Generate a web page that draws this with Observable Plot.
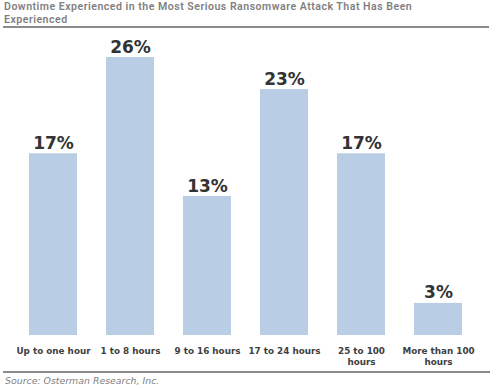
<!DOCTYPE html>
<html>
<head>
<meta charset="utf-8">
<script src="https://cdn.jsdelivr.net/npm/d3@7"></script>
<script src="https://cdn.jsdelivr.net/npm/@observablehq/plot@0.6"></script>
<style>
  html, body { margin: 0; padding: 0; background: #fff; }
  #wrap { width: 497px; height: 389px; position: relative; overflow: hidden; }
  #title { position: absolute; left: 3px; top: 1px; width: 485px; height: 25px;
    border-bottom: 2px solid #8c8c8c;
    font-family: Roboto, "Open Sans", sans-serif; font-weight: 600; font-size: 10.6px;
    letter-spacing: 0.48px; color: #7f7f7f; padding-left: 1px; }
  #title div { height: 12.5px; line-height: 12.5px; white-space: nowrap; }
  #chart { position: absolute; left: 0; top: 28px; }
  #source { position: absolute; left: 3px; top: 371px; width: 485px;
    border-top: 2px solid #8c8c8c;
    font-family: "DejaVu Sans", Verdana, sans-serif; font-style: italic;
    font-size: 9.4px; line-height: 11px; color: #7f7f7f; padding-left: 2px; padding-top: 2px; }
</style>
</head>
<body>
<div id="wrap">
  <div id="title"><div>Downtime Experienced in the Most Serious Ransomware Attack That Has Been</div><div>Experienced</div></div>
  <div id="chart"></div>
  <div id="source">Source: Osterman Research, Inc.</div>
</div>
<script>
const categories = ["Up to one hour", "1 to 8 hours", "9 to 16 hours", "17 to 24 hours", "25 to 100 hours", "More than 100 hours"];
const tickLabels = ["Up to one hour", "1 to 8 hours", "9 to 16 hours", "17 to 24 hours", "25 to 100\nhours", "More than 100\nhours"];
const values = [17, 26, 13, 23, 17, 3];

const data = categories.map((c, i) => ({category: c, value: values[i], label: values[i] + "%"}));
const labelOf = new Map(categories.map((c, i) => [c, tickLabels[i]]));

const chart = Plot.plot({
  width: 497,
  height: 343,
  marginTop: 29,
  marginBottom: 36,
  marginLeft: 13,
  marginRight: 20,
  style: {fontFamily: "'DejaVu Sans', Verdana, sans-serif", background: "white"},
  x: {domain: categories, paddingInner: 0.38, paddingOuter: 0.19},
  y: {domain: [0, 26], axis: null},
  marks: [
    Plot.barY(data, {x: "category", y: "value", fill: "#b9cde5"}),
    Plot.text(data, {x: "category", y: "value", text: "label", dy: -5, lineAnchor: "bottom",
      fontSize: 17, fontWeight: "bold", fill: "#333333"}),
    Plot.axisX({tickSize: 0, tickPadding: 11, tickFormat: d => labelOf.get(d), fontSize: 8.8,
      fontWeight: "bold", fill: "#404040", lineHeight: 1.22, label: null})
  ]
});
document.getElementById("chart").appendChild(chart);
</script>
</body>
</html>
